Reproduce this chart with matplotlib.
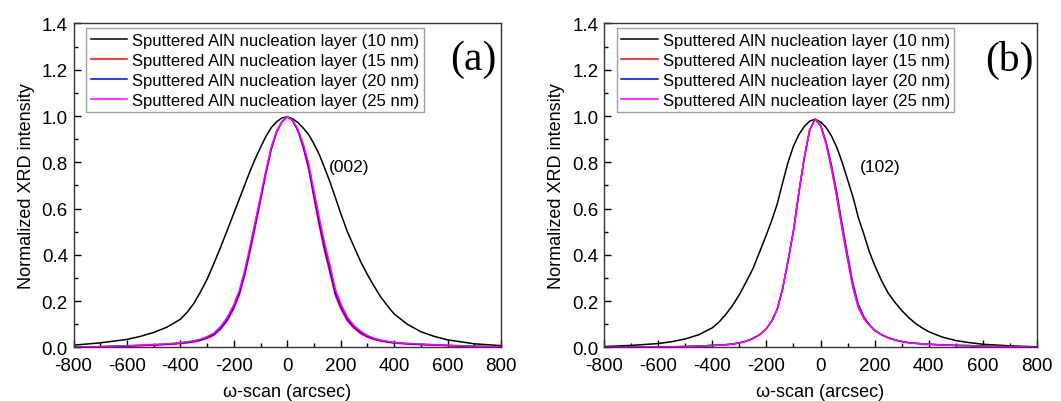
import matplotlib
matplotlib.use('Agg')
import matplotlib.pyplot as plt
from matplotlib.ticker import MultipleLocator, FormatStrFormatter

plt.rcParams['font.family'] = ['Liberation Sans', 'DejaVu Sans']
plt.rcParams['axes.unicode_minus'] = False

labels = ['Sputtered AlN nucleation layer (10 nm)',
          'Sputtered AlN nucleation layer (15 nm)',
          'Sputtered AlN nucleation layer (20 nm)',
          'Sputtered AlN nucleation layer (25 nm)']
colors = ['black', 'red', 'blue', 'magenta']

# omega positions (arcsec), shared by all scans
omega = [-800, -700, -600, -550, -500, -450, -400, -375, -350, -325, -300, -275, -250, -225,
         -200, -180, -160, -140, -120, -100, -80, -60, -40, -20, 0, 20, 40, 60, 80, 100,
         120, 140, 160, 180, 200, 225, 250, 275, 300, 325, 350, 375, 400, 450, 500, 550,
         600, 700, 800]

# (002) rocking curves
i002_10 = [0.010, 0.020, 0.035, 0.048, 0.065, 0.088, 0.122, 0.152, 0.190, 0.240, 0.295, 0.362,
           0.432, 0.505, 0.580, 0.640, 0.700, 0.760, 0.815, 0.865, 0.912, 0.950, 0.975, 0.992,
           0.996, 0.988, 0.972, 0.948, 0.920, 0.880, 0.833, 0.775, 0.715, 0.648, 0.580, 0.500,
           0.435, 0.370, 0.315, 0.265, 0.218, 0.180, 0.145, 0.100, 0.068, 0.048, 0.033, 0.016,
           0.008]
i002_15 = [0.0, 0.003, 0.006, 0.008, 0.010, 0.013, 0.017, 0.020, 0.024, 0.030, 0.040, 0.053,
           0.078, 0.115, 0.168, 0.225, 0.308, 0.410, 0.520, 0.635, 0.750, 0.855, 0.930, 0.975,
           0.998, 0.980, 0.935, 0.862, 0.770, 0.645, 0.525, 0.415, 0.320, 0.225, 0.168, 0.115,
           0.083, 0.060, 0.045, 0.035, 0.028, 0.023, 0.019, 0.015, 0.012, 0.010, 0.008, 0.004,
           0.002]
i002_20 = [0.0, 0.0035, 0.007, 0.009, 0.0115, 0.0145, 0.019, 0.0225, 0.0265, 0.033, 0.0435,
           0.0575, 0.084, 0.122, 0.176, 0.235, 0.319, 0.422, 0.532, 0.645, 0.757, 0.860, 0.932,
           0.975, 0.998, 0.981, 0.939, 0.870, 0.782, 0.660, 0.542, 0.432, 0.337, 0.238, 0.179,
           0.123, 0.089, 0.065, 0.0485, 0.0375, 0.030, 0.025, 0.0205, 0.0165, 0.0135, 0.011,
           0.009, 0.005, 0.0025]
i002_25 = [0.0, 0.004, 0.008, 0.010, 0.013, 0.016, 0.021, 0.025, 0.029, 0.036, 0.047, 0.062,
           0.090, 0.130, 0.185, 0.245, 0.330, 0.435, 0.545, 0.655, 0.765, 0.865, 0.935, 0.975,
           0.998, 0.982, 0.943, 0.878, 0.795, 0.676, 0.560, 0.450, 0.355, 0.252, 0.190, 0.131,
           0.095, 0.070, 0.052, 0.040, 0.032, 0.027, 0.022, 0.018, 0.015, 0.012, 0.010, 0.006,
           0.003]

# (102) rocking curves
i102_10 = [0.004, 0.009, 0.017, 0.025, 0.037, 0.055, 0.085, 0.110, 0.143, 0.182, 0.228, 0.283,
           0.340, 0.413, 0.487, 0.550, 0.620, 0.712, 0.800, 0.870, 0.920, 0.955, 0.978, 0.986,
           0.975, 0.952, 0.915, 0.865, 0.800, 0.725, 0.650, 0.560, 0.490, 0.415, 0.355, 0.290,
           0.235, 0.195, 0.160, 0.130, 0.105, 0.085, 0.068, 0.045, 0.030, 0.021, 0.014, 0.007,
           0.003]
i102_15 = [0.0, 0.001, 0.002, 0.003, 0.004, 0.006, 0.009, 0.010, 0.012, 0.015, 0.020, 0.027,
           0.039, 0.055, 0.082, 0.115, 0.165, 0.255, 0.375, 0.505, 0.670, 0.820, 0.940, 0.986,
           0.958, 0.882, 0.775, 0.650, 0.510, 0.380, 0.258, 0.172, 0.125, 0.097, 0.074, 0.055,
           0.042, 0.033, 0.026, 0.021, 0.018, 0.016, 0.014, 0.011, 0.009, 0.008, 0.006, 0.003,
           0.001]
i102_20 = [0.0, 0.001, 0.002, 0.003, 0.004, 0.006, 0.009, 0.010, 0.012, 0.015, 0.020, 0.027,
           0.039, 0.055, 0.082, 0.115, 0.165, 0.255, 0.375, 0.505, 0.670, 0.820, 0.940, 0.986,
           0.962, 0.890, 0.790, 0.670, 0.530, 0.400, 0.275, 0.185, 0.133, 0.100, 0.075, 0.056,
           0.042, 0.033, 0.026, 0.021, 0.018, 0.016, 0.014, 0.011, 0.009, 0.008, 0.006, 0.003,
           0.001]
i102_25 = [0.0, 0.001, 0.002, 0.003, 0.004, 0.006, 0.009, 0.010, 0.012, 0.015, 0.020, 0.027,
           0.039, 0.055, 0.082, 0.115, 0.165, 0.255, 0.375, 0.505, 0.670, 0.820, 0.940, 0.986,
           0.960, 0.885, 0.780, 0.655, 0.515, 0.385, 0.260, 0.175, 0.128, 0.098, 0.075, 0.056,
           0.042, 0.033, 0.026, 0.021, 0.018, 0.016, 0.014, 0.011, 0.009, 0.008, 0.006, 0.003,
           0.001]

panels = [
    ([i002_10, i002_15, i002_20, i002_25], '(a)', '(002)', (233, 0.784),
     [0.0693, 0.1331, 0.4029, 0.806]),
    ([i102_10, i102_15, i102_20, i102_25], '(b)', '(102)', (220, 0.784),
     [0.5693, 0.1331, 0.4081, 0.806]),
]

fig = plt.figure(figsize=(10.61, 4.02), dpi=100)

for scans, tag, refl, refl_xy, pos in panels:
    ax = fig.add_axes(pos)
    for ys, c, lab in zip(scans, colors, labels):
        ax.plot(omega, ys, color=c, lw=1.1, label=lab, solid_joinstyle='round')
    ax.set_xlim(-800, 800)
    ax.set_ylim(0, 1.4)
    ax.xaxis.set_major_locator(MultipleLocator(200))
    ax.xaxis.set_minor_locator(MultipleLocator(100))
    ax.yaxis.set_major_locator(MultipleLocator(0.2))
    ax.yaxis.set_minor_locator(MultipleLocator(0.1))
    ax.yaxis.set_major_formatter(FormatStrFormatter('%.1f'))
    ax.tick_params(which='both', direction='in', top=False, right=False, labelsize=13.5)
    ax.tick_params(axis='x', pad=6.5)
    ax.tick_params(axis='y', pad=4)
    ax.tick_params(which='major', length=5, width=1)
    ax.tick_params(which='minor', length=3, width=1)
    for s in ax.spines.values():
        s.set_color('#333333')
        s.set_linewidth(1.0)
    ax.set_xlabel('\u03c9-scan (arcsec)', fontsize=13, labelpad=7)
    ax.set_ylabel('Normalized XRD intensity', fontsize=13, labelpad=5)
    leg = ax.legend(loc='upper left', bbox_to_anchor=(0.03, 0.985), fontsize=12,
                    handlelength=2.2, handletextpad=0.3, labelspacing=0.3,
                    borderpad=0.25, borderaxespad=0, frameon=True, fancybox=False)
    leg.get_frame().set_edgecolor('#888888')
    leg.get_frame().set_linewidth(1.0)
    ax.text(0.935, 0.89, tag, transform=ax.transAxes, ha='center', va='center',
            fontsize=30, family='Liberation Serif')
    ax.text(refl_xy[0], refl_xy[1], refl, ha='center', va='center', fontsize=12.5)

fig.savefig('out.png', dpi=100)
